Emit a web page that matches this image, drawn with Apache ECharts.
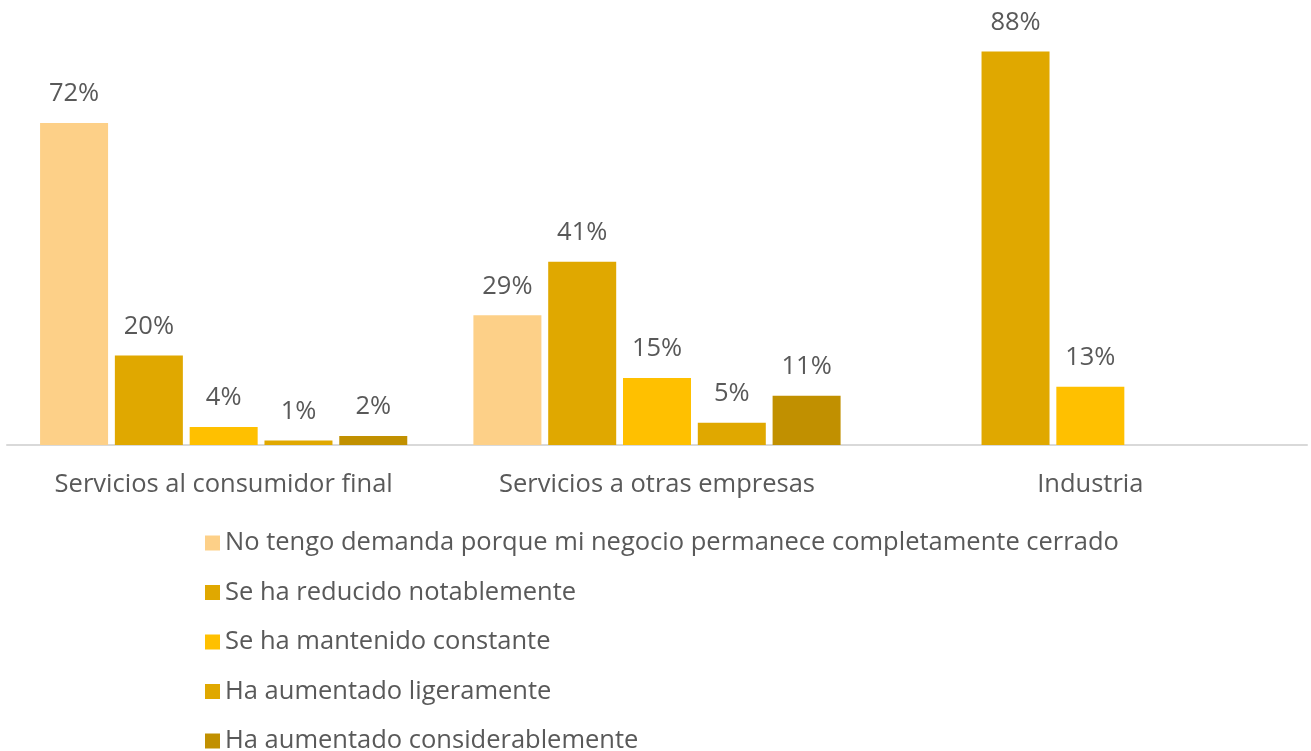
<!DOCTYPE html>
<html>
<head>
<meta charset="utf-8">
<title>Demanda por sector</title>
<script src="https://cdn.jsdelivr.net/npm/echarts@6/dist/echarts.min.js"></script>
<style>
    html, body { margin: 0; padding: 0; background: #fff; }
    #main { width: 1311px; height: 751px; }
</style>
</head>
<body>
<div id="main"></div>
<script>
// categorias
var categorias = ['Servicios al consumidor final', 'Servicios a otras empresas', 'Industria'];

// series (%), null = sin barra
var cerrado = [72, 29, null];
var reducido = [20, 41, 88];
var constante = [4, 15, 13];
var aumLigero = [1, 5, null];
var aumConsid = [2, 11, null];

var nombres = [
    'No tengo demanda porque mi negocio permanece completamente cerrado',
    'Se ha reducido notablemente',
    'Se ha mantenido constante',
    'Ha aumentado ligeramente',
    'Ha aumentado considerablemente'
];
var colores = ['#FDD088', '#E0A800', '#FFC000', '#E0A800', '#C19000'];
var valores = [cerrado, reducido, constante, aumLigero, aumConsid];

var fuente = '"Open Sans", Roboto, sans-serif';
var gris = '#595959';
var tam = 25.5;

var chart = echarts.init(document.getElementById('main'));

var series = [];
for (var i = 0; i < nombres.length; i++) {
    series.push({
        name: nombres[i],
        type: 'bar',
        barWidth: 68,
        barGap: '10%',
        itemStyle: { color: colores[i] },
        label: {
            show: true,
            position: 'top',
            distance: 16,
            fontSize: tam,
            fontFamily: fuente,
            color: gris,
            formatter: function (p) { return p.value + '%'; }
        },
        data: valores[i]
    });
}

var option = {
    animation: false,
    color: colores,
    legend: {
        orient: 'vertical',
        left: 200,
        top: 525,
        height: 400,
        itemWidth: 15,
        itemHeight: 15,
        itemGap: 23.5,
        icon: 'rect',
        textStyle: { fontSize: tam, fontFamily: fuente, color: gris },
        data: nombres
    },
    grid: {
        left: 7,
        right: 4,
        top: -2,
        bottom: 306,
        containLabel: false
    },
    xAxis: {
        type: 'category',
        data: categorias,
        axisLine: { lineStyle: { color: '#D9D9D9', width: 2 } },
        axisTick: { show: false },
        axisLabel: {
            interval: 0,
            hideOverlap: false,
            margin: 27,
            fontSize: tam,
            fontFamily: fuente,
            color: gris
        }
    },
    yAxis: {
        type: 'value',
        min: 0,
        max: 99.5,
        show: false
    },
    series: series
};

chart.setOption(option);
</script>
</body>
</html>
